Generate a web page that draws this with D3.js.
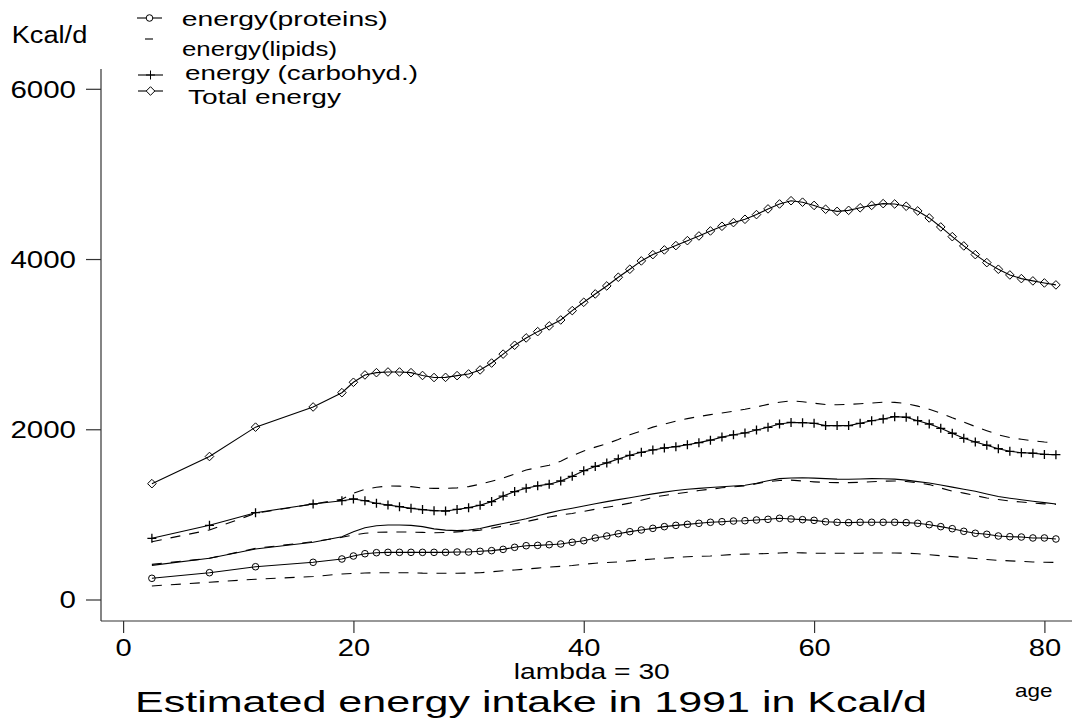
<!DOCTYPE html>
<html>
<head>
<meta charset="utf-8">
<script src="https://cdn.jsdelivr.net/npm/d3@7/dist/d3.min.js"></script>
<style>
  body { margin: 0; background: #fff; }
  svg { display: block; }
  text { font-family: "Liberation Sans", Arial, Helvetica, sans-serif; fill: #000; }
</style>
</head>
<body>
<script>
// age groups (mean age of each group)
const ages = [2.5, 7.5, 11.5, 16.5, 19, 20, 21, 22, 23, 24, 25,
  26, 27, 28, 29, 30, 31, 32, 33, 34, 35, 36, 37, 38, 39, 40,
  41, 42, 43, 44, 45, 46, 47, 48, 49, 50, 51, 52, 53, 54, 55,
  56, 57, 58, 59, 60, 61, 62, 63, 64, 65, 66, 67, 68, 69, 70,
  71, 72, 73, 74, 75, 76, 77, 78, 79, 80, 81];

const total = [1361, 1680, 2025, 2262, 2430, 2552, 2638, 2665, 2673, 2673, 2665,
  2632, 2608, 2610, 2630, 2650, 2697, 2778, 2883, 2987, 3073, 3147, 3214, 3284, 3394, 3492,
  3590, 3684, 3786, 3880, 3978, 4052, 4107, 4158, 4216, 4271, 4330, 4385, 4428, 4467, 4522,
  4589, 4647, 4685, 4668, 4630, 4585, 4560, 4572, 4602, 4630, 4651, 4647, 4620, 4565, 4483,
  4377, 4263, 4154, 4052, 3958, 3880, 3813, 3770, 3743, 3719, 3696];

const carbs = [719, 872, 1020, 1122, 1161, 1181, 1161, 1130, 1110, 1091, 1071,
  1056, 1044, 1040, 1058, 1079, 1107, 1150, 1215, 1268, 1308, 1336, 1355, 1392, 1447, 1514,
  1563, 1605, 1651, 1694, 1729, 1757, 1780, 1796, 1819, 1843, 1872, 1908, 1935, 1957, 1992,
  2023, 2062, 2080, 2078, 2070, 2043, 2043, 2043, 2070, 2101, 2121, 2148, 2141, 2101, 2062,
  2011, 1953, 1894, 1851, 1812, 1772, 1741, 1725, 1718, 1705, 1702];

const carbsDashed = [679, 817, 1013, 1122, 1177, 1248, 1295, 1318, 1334, 1332, 1326,
  1310, 1305, 1306, 1312, 1326, 1355, 1390, 1426, 1475, 1522, 1550, 1578, 1625, 1690, 1745,
  1790, 1830, 1880, 1935, 1980, 2025, 2060, 2095, 2125, 2150, 2172, 2192, 2212, 2235, 2262,
  2292, 2318, 2334, 2324, 2306, 2290, 2288, 2293, 2300, 2308, 2318, 2316, 2302, 2272, 2235,
  2190, 2135, 2084, 2032, 1983, 1935, 1902, 1882, 1864, 1850, 1840];

const lipids = [401, 484, 593, 672, 738, 797, 844, 867, 875, 875, 871,
  856, 830, 815, 809, 815, 835, 865, 892, 920, 948, 983, 1018, 1048, 1073, 1099,
  1124, 1150, 1173, 1195, 1218, 1241, 1262, 1280, 1296, 1306, 1315, 1325, 1334, 1343, 1366,
  1396, 1420, 1428, 1431, 1426, 1420, 1414, 1412, 1416, 1420, 1418, 1414, 1402, 1385, 1368,
  1345, 1320, 1295, 1272, 1240, 1210, 1190, 1172, 1155, 1138, 1122];

const lipidsDashed = [413, 484, 601, 679, 731, 758, 778, 789, 792, 793, 792,
  789, 785, 788, 794, 802, 815, 838, 864, 890, 915, 944, 970, 993, 1011, 1036,
  1061, 1084, 1106, 1132, 1166, 1201, 1222, 1242, 1260, 1280, 1296, 1312, 1324, 1334, 1360,
  1385, 1398, 1403, 1392, 1382, 1375, 1373, 1373, 1377, 1383, 1390, 1392, 1386, 1372, 1350,
  1310, 1272, 1250, 1222, 1192, 1175, 1158, 1145, 1133, 1124, 1118];

const proteins = [249, 315, 385, 437, 476, 511, 538, 550, 554, 554, 554,
  554, 554, 554, 558, 558, 566, 574, 589, 613, 632, 636, 644, 652, 672, 691,
  723, 746, 773, 797, 817, 836, 856, 871, 883, 895, 907, 914, 922, 926, 934,
  942, 954, 946, 938, 930, 914, 907, 903, 907, 907, 907, 907, 903, 895, 879,
  856, 832, 801, 778, 766, 746, 738, 734, 723, 723, 711];

const proteinsDashed = [159, 203, 238, 270, 300, 306, 311, 315, 315, 315, 315,
  310, 308, 308, 308, 310, 315, 326, 338, 347, 357, 369, 381, 390, 400, 414,
  426, 434, 442, 454, 465, 475, 485, 494, 503, 507, 511, 520, 529, 533, 536,
  540, 546, 552, 548, 543, 543, 543, 543, 544, 546, 546, 546, 544, 538, 527,
  514, 504, 493, 482, 470, 460, 454, 448, 441, 438, 436];

const legendLabels = ["energy(proteins)", "energy(lipids)", "energy (carbohyd.)", "Total energy"];
const xTicks = [0, 20, 40, 60, 80];
const yTicks = [0, 2000, 4000, 6000];

const W = 1072, H = 722;

const svg = d3.select("body").append("svg")
  .attr("width", W)
  .attr("height", H);

const x = d3.scaleLinear().domain([0, 80]).range([123.1, 1044.4]);
const y = d3.scaleLinear().domain([0, 6000]).range([599.5, 88.8]);

// stretch a text node to a given width, like the original's wide font
function fit(sel, w) {
  sel.attr("textLength", w).attr("lengthAdjust", "spacingAndGlyphs");
}

// axes: the lines run past the ticks, so draw them by hand
const axisX = 101, axisY = 621;
svg.append("line")
  .attr("x1", axisX).attr("x2", axisX).attr("y1", 69).attr("y2", axisY)
  .attr("stroke", "#333").attr("stroke-width", 1.2);
svg.append("line")
  .attr("x1", axisX).attr("x2", W).attr("y1", axisY).attr("y2", axisY)
  .attr("stroke", "#333").attr("stroke-width", 1.2);

const gy = svg.append("g")
  .attr("transform", "translate(" + axisX + ",0)")
  .call(d3.axisLeft(y).tickValues(yTicks).tickFormat(d3.format("d"))
    .tickSize(15).tickSizeOuter(0).tickPadding(10));
gy.select(".domain").remove();
gy.selectAll(".tick line").attr("stroke", "#333").attr("stroke-width", 1.2);
gy.selectAll(".tick text")
  .attr("font-size", 23).attr("dy", "0.36em")
  .style("font-family", null)
  .each(function(d) { fit(d3.select(this), String(d).length * 16.4); });

const gx = svg.append("g")
  .attr("transform", "translate(0," + axisY + ")")
  .call(d3.axisBottom(x).tickValues(xTicks)
    .tickSize(12).tickSizeOuter(0).tickPadding(7));
gx.select(".domain").remove();
gx.selectAll(".tick line").attr("stroke", "#333").attr("stroke-width", 1.2);
gx.selectAll(".tick text")
  .attr("font-size", 23)
  .style("font-family", null)
  .each(function(d) { fit(d3.select(this), String(d).length * 16.2); });

// series
const line = d3.line()
  .x((d, i) => x(ages[i]))
  .y(d => y(d));

function drawLine(values, dashed) {
  svg.append("path")
    .datum(values)
    .attr("d", line)
    .attr("fill", "none")
    .attr("stroke", "#000")
    .attr("stroke-width", 1.1)
    .attr("stroke-dasharray", dashed ? "10,9" : null);
}

drawLine(proteinsDashed, true);
drawLine(lipidsDashed, true);
drawLine(carbsDashed, true);
drawLine(lipids, false);
drawLine(proteins, false);
drawLine(carbs, false);
drawLine(total, false);

const circleSym = "M3.3,0A3.3,3.3 0 1,1 -3.3,0A3.3,3.3 0 1,1 3.3,0Z";
const plusSym = "M-4.5,0H4.5M0,-4.5V4.5";
const diamondSym = "M0,-4.3L4.3,0L0,4.3L-4.3,0Z";

function drawMarks(values, sym, w) {
  svg.append("g").selectAll("path")
    .data(values)
    .join("path")
    .attr("transform", (d, i) => "translate(" + x(ages[i]) + "," + y(d) + ")")
    .attr("d", sym)
    .attr("fill", "none")
    .attr("stroke", "#000")
    .attr("stroke-width", w);
}

drawMarks(proteins, circleSym, 1);
drawMarks(carbs, plusSym, 1.3);
drawMarks(total, diamondSym, 1);

// legend
const leg = svg.append("g");
const legRows = [
  { sym: circleSym, lineY: 18, x1: 137, x2: 162, sx: 149.5, textX: 181.7, textY: 26, w: 206 },
  { sym: null, lineY: 39, x1: 145, x2: 153, sx: 149, textX: 182, textY: 56, w: 155 },
  { sym: plusSym, lineY: 75, x1: 138, x2: 163, sx: 150.5, textX: 185, textY: 80, w: 233 },
  { sym: diamondSym, lineY: 91, x1: 138, x2: 163, sx: 150.5, textX: 188, textY: 104, w: 153 }
];
legRows.forEach(function(r, i) {
  leg.append("line")
    .attr("x1", r.x1).attr("x2", r.x2).attr("y1", r.lineY).attr("y2", r.lineY)
    .attr("stroke", "#000").attr("stroke-width", 1.1);
  if (r.sym) {
    leg.append("path")
      .attr("transform", "translate(" + r.sx + "," + r.lineY + ")")
      .attr("d", r.sym)
      .attr("fill", r.sym === plusSym ? "none" : "#fff")
      .attr("stroke", "#000").attr("stroke-width", 1);
  }
  leg.append("text")
    .attr("x", r.textX).attr("y", r.textY)
    .attr("font-size", 21)
    .text(legendLabels[i])
    .call(fit, r.w);
});

// titles
svg.append("text").attr("x", 11.7).attr("y", 43).attr("font-size", 23)
  .text("Kcal/d").call(fit, 75.6);
svg.append("text").attr("x", 513.8).attr("y", 679).attr("font-size", 22)
  .text("lambda = 30").call(fit, 156);
svg.append("text").attr("x", 135).attr("y", 712).attr("font-size", 30)
  .text("Estimated energy intake in 1991 in Kcal/d").call(fit, 792);
svg.append("text").attr("x", 1015).attr("y", 697).attr("font-size", 19)
  .text("age").call(fit, 37.5);
</script>
</body>
</html>
